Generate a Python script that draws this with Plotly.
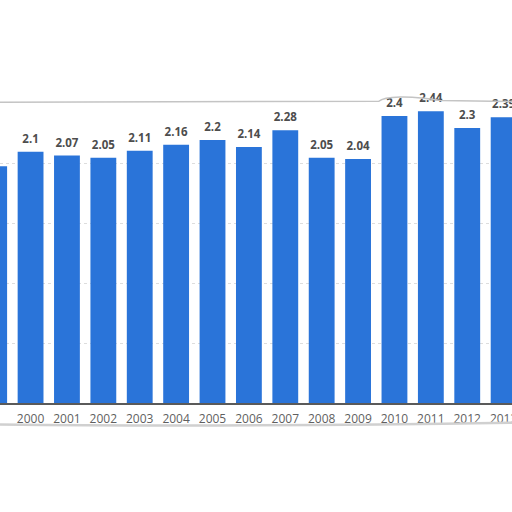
import plotly.graph_objects as go

# data
years = [1999, 2000, 2001, 2002, 2003, 2004, 2005, 2006, 2007, 2008, 2009, 2010, 2011, 2012, 2013]
values = [1.98, 2.1, 2.07, 2.05, 2.11, 2.16, 2.2, 2.14, 2.28, 2.05, 2.04, 2.4, 2.44, 2.3, 2.39]
labels = ["1.98", "2.1", "2.07", "2.05", "2.11", "2.16", "2.2", "2.14", "2.28", "2.05", "2.04", "2.4", "2.44", "2.3", "2.39"]
year_labels = [str(y) for y in years]

bar_color = "#2a74d9"

fig = go.Figure()
fig.add_bar(x=years, y=values, marker=dict(color=bar_color, line_width=0))
# value labels sit a bit higher than plotly's "outside" text, so use a text trace
# (invisible marker just pushes the text up)
fig.add_scatter(
    x=years, y=values, text=labels, mode="markers+text", textposition="top center",
    marker=dict(size=8, opacity=0),
    textfont=dict(family="Open Sans", size=11.5, color="#4d4d4d", weight="bold"),
    cliponaxis=False, hoverinfo="skip",
)
# year labels as text too, so the half-visible 1999 at the left edge still shows
fig.add_scatter(
    x=years, y=[0] * len(years), text=year_labels, mode="markers+text",
    textposition="bottom center", marker=dict(size=16, opacity=0),
    textfont=dict(family="Open Sans", size=12, color="#5f5f5f"),
    cliponaxis=False, hoverinfo="skip",
)

# paper "card" edges (top line with small bump, bottom shadow)
fig.add_shape(type="path", xref="paper", yref="paper",
              path="M 0,1.006 L 0.74,1.009 C 0.75,1.026 0.80,1.03 0.86,1.012 L 1,1.008",
              line=dict(color="#c4c4c4", width=1.5))
fig.add_shape(type="path", xref="paper", yref="paper",
              path="M 0,-0.072 C 0.3,-0.078 0.7,-0.074 1,-0.066",
              line=dict(color="#d0d0d0", width=2.5))

fig.update_layout(
    width=512, height=512,
    margin=dict(l=0, r=0, t=103.5, b=108.5),
    paper_bgcolor="white", plot_bgcolor="white",
    bargap=0.29, showlegend=False,
    font=dict(family="Open Sans", color="#666666"),
)
fig.update_xaxes(
    range=[1999.16, 2013.23], showticklabels=False, automargin=False,
    showgrid=False, showline=True, linecolor="#5a5a5a", linewidth=2,
)
fig.update_yaxes(
    range=[0, 2.5], dtick=0.5, showticklabels=False, automargin=False,
    showgrid=True, gridcolor="#dddddd", griddash="dot", gridwidth=1,
    zeroline=False,
)

# drop the page's default 8px body margin so the figure sits at the window corner,
# and keep overflowing edge labels from widening the page
page_js = ("document.body.style.margin='0';"
           "document.body.style.overflow='hidden';"
           "document.documentElement.style.overflow='hidden';")
fig.write_html("out.html", config={"displayModeBar": False}, post_script=page_js)
